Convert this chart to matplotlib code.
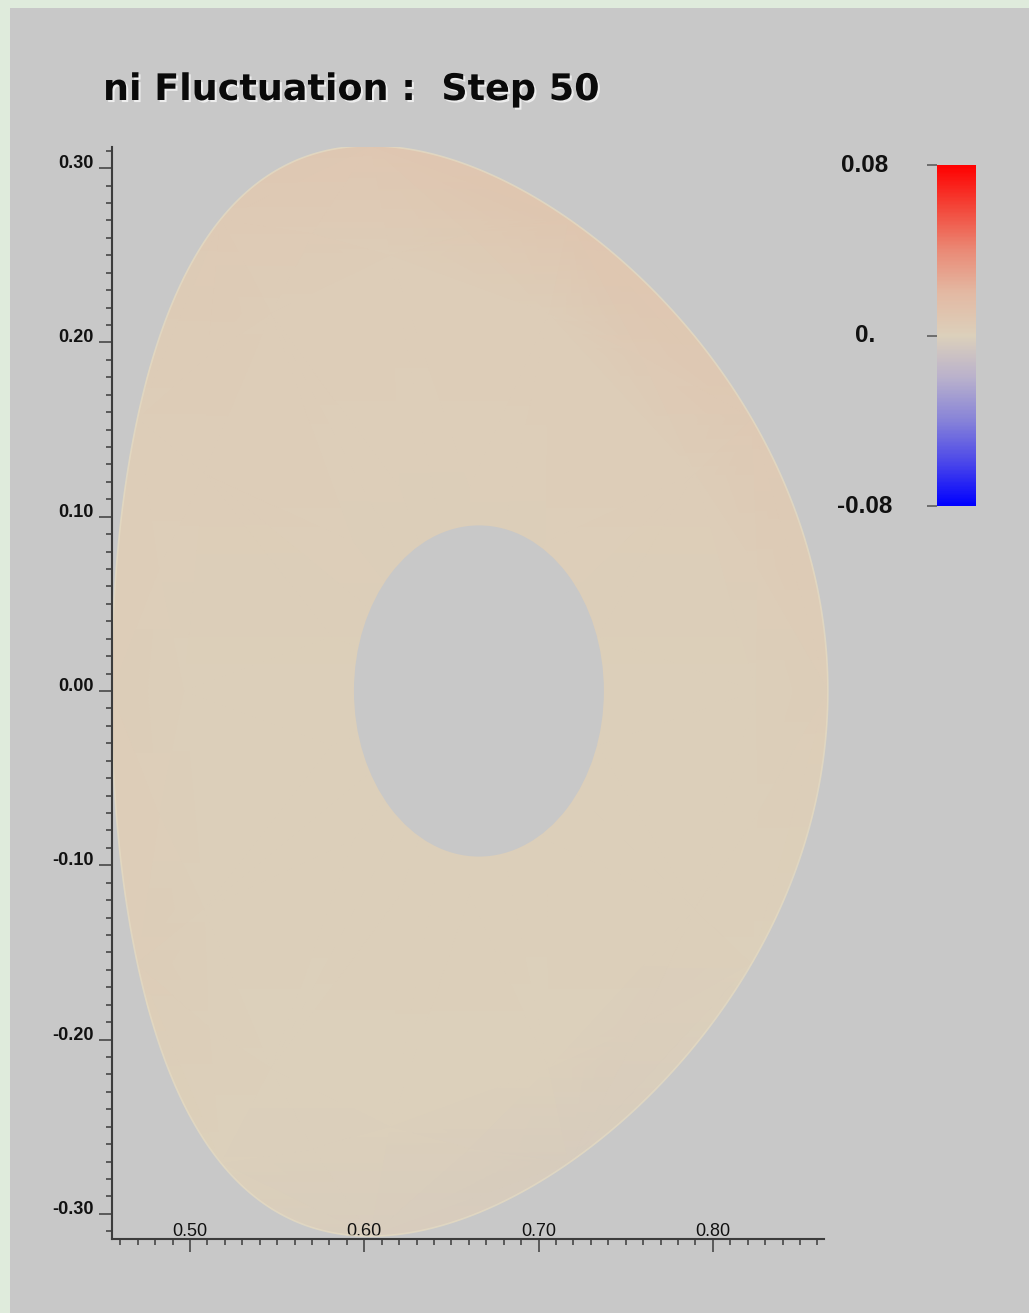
import numpy as np
import matplotlib
matplotlib.use("Agg")
import matplotlib.pyplot as plt
import matplotlib.patheffects as pe
from matplotlib.colors import LinearSegmentedColormap
from matplotlib.patches import Ellipse, Polygon, Rectangle
from matplotlib.ticker import MultipleLocator

# axis ticks
x_ticks = [0.50, 0.60, 0.70, 0.80]
x_labels = ["0.50", "0.60", "0.70", "0.80"]
y_ticks = [-0.30, -0.20, -0.10, 0.00, 0.10, 0.20, 0.30]
y_labels = ["-0.30", "-0.20", "-0.10", "0.00", "0.10", "0.20", "0.30"]

# colour scale
cbar_ticks = [-0.08, 0.0, 0.08]
cbar_labels = ["-0.08", "0.", "0.08"]
cmap_colors = ["#0000ff", "#4a46ea", "#8783d8", "#b9b1cc", "#dcd0bb",
               "#e3b9a3", "#ea8a76", "#f3473a", "#ff0000"]

# plasma cross-section (Miller shape) and the inner hole
R0, a_minor, kappa, delta = 0.6605, 0.2055, 1.522, 0.278
hole_center = (0.6658, 0.0)
hole_width, hole_height = 0.1434, 0.190

# ni fluctuation read on a coarse (rho, theta) grid
theta_deg = [0, 30, 60, 90, 120, 150, 180, 210, 240, 270, 300, 330, 360]
rho_levels = [0.0, 0.8, 1.0, 1.2]
ni_inner = [0.001, 0.001, 0.001, 0.001, 0.001, 0.001, 0.001, 0.001, 0.001, 0.001, 0.001, 0.001, 0.001]
ni_mid = [0.001, 0.002, 0.003, 0.003, 0.002, 0.002, 0.001, 0.001, 0.000, 0.000, 0.000, 0.001, 0.001]
ni_edge = [0.002, 0.006, 0.009, 0.008, 0.005, 0.003, 0.002, 0.002, 0.000, -0.002, -0.003, 0.000, 0.002]
ni_outer = [0.002, 0.006, 0.009, 0.008, 0.005, 0.003, 0.002, 0.002, 0.000, -0.002, -0.003, 0.000, 0.002]


def miller(rho, theta):
    R = R0 + rho * a_minor * np.cos(theta + np.arcsin(delta) * np.sin(theta))
    Z = rho * kappa * a_minor * np.sin(theta)
    return R, Z


W, H = 1029, 1313
fig = plt.figure(figsize=(W / 100, H / 100), dpi=100)
fig.patch.set_facecolor("#dfebdc")
fig.add_artist(Rectangle((10 / W, 0), 1, 1 - 8 / H, transform=fig.transFigure,
                         facecolor="#c8c8c8", edgecolor="none", zorder=-1))

x_lo, x_hi, x_axis_end = 0.455, 0.8668, 0.8637
ax = fig.add_axes([111.5 / W, (H - 1239) / H, (x_hi - x_lo) * 1743 / W, 1092 / H])
ax.set_facecolor("none")
ax.set_xlim(x_lo, x_hi)
ax.set_ylim(-0.3144, 0.3121)

cmap = LinearSegmentedColormap.from_list("ni_fluct", cmap_colors)

th = np.radians(theta_deg)
Rg, Zg = miller(np.array(rho_levels)[:, None], th[None, :])
ni = np.array([ni_inner, ni_mid, ni_edge, ni_outer])
mesh = ax.pcolormesh(Rg, Zg, ni, cmap=cmap, vmin=-0.08, vmax=0.08,
                     shading="gouraud", zorder=1)

tf = np.linspace(0, 2 * np.pi, 400)
Rb, Zb = miller(1.0, tf)
outline = Polygon(np.column_stack([Rb, Zb]), closed=True, facecolor="none",
                  edgecolor="#e4dac2", lw=1.2, alpha=0.8, zorder=2)
ax.add_patch(outline)
mesh.set_clip_path(outline)

ax.add_patch(Ellipse(hole_center, hole_width, hole_height, facecolor="#c8c8c8",
                     edgecolor="none", zorder=3))

# axes styling
for s in ["top", "right"]:
    ax.spines[s].set_visible(False)
for s in ["left", "bottom"]:
    ax.spines[s].set_color("#3c3c3c")
    ax.spines[s].set_linewidth(1.5)
ax.spines["bottom"].set_bounds(x_lo, x_axis_end)

ax.set_xticks(x_ticks, x_labels)
ax.set_yticks(y_ticks, y_labels)
ax.xaxis.set_minor_locator(MultipleLocator(0.01))
ax.yaxis.set_minor_locator(MultipleLocator(0.01))
ax.tick_params(axis="both", which="both", direction="out", color="#3c3c3c", width=1.1)
ax.tick_params(axis="x", which="major", length=9.4, pad=-11.2, labelsize=13)
ax.tick_params(axis="x", which="minor", length=4)
ax.tick_params(axis="y", which="major", length=9.4, pad=3.6, labelsize=13)
ax.tick_params(axis="y", which="minor", length=4.3)
for lbl in ax.get_xticklabels():
    lbl.set_fontfamily("Liberation Sans")
    lbl.set_va("baseline")
    lbl.set_color("#111111")
for lbl in ax.get_yticklabels():
    lbl.set_fontfamily("Liberation Sans")
    lbl.set_fontweight("bold")
    lbl.set_va("baseline")
    lbl.set_color("#111111")

# colour bar
cax = fig.add_axes([937 / W, (H - 506) / H, 39 / W, 341 / H])
cb = fig.colorbar(mesh, cax=cax, ticks=cbar_ticks)
cb.outline.set_visible(False)
cax.yaxis.set_ticks_position("left")
cax.set_yticks(cbar_ticks, cbar_labels)
cax.tick_params(axis="y", length=7.2, width=1.1, color="#555555", pad=44.6, labelsize=17.5)
for lbl in cax.get_yticklabels():
    lbl.set_fontfamily("Liberation Sans")
    lbl.set_fontweight("bold")
    lbl.set_ha("center")
    lbl.set_va("center")
    lbl.set_color("#111111")

# title
fig.text(103 / W, 1 - 100 / H, "ni Fluctuation :  Step 50", fontsize=26.3,
         fontweight="bold", color="#0a0a0a", ha="left", va="baseline",
         path_effects=[pe.SimplePatchShadow(offset=(1.5, -1.5), shadow_rgbFace="#f2f2f2", alpha=0.9),
                       pe.Normal()])

fig.savefig("out.png", dpi=100, facecolor=fig.get_facecolor())
